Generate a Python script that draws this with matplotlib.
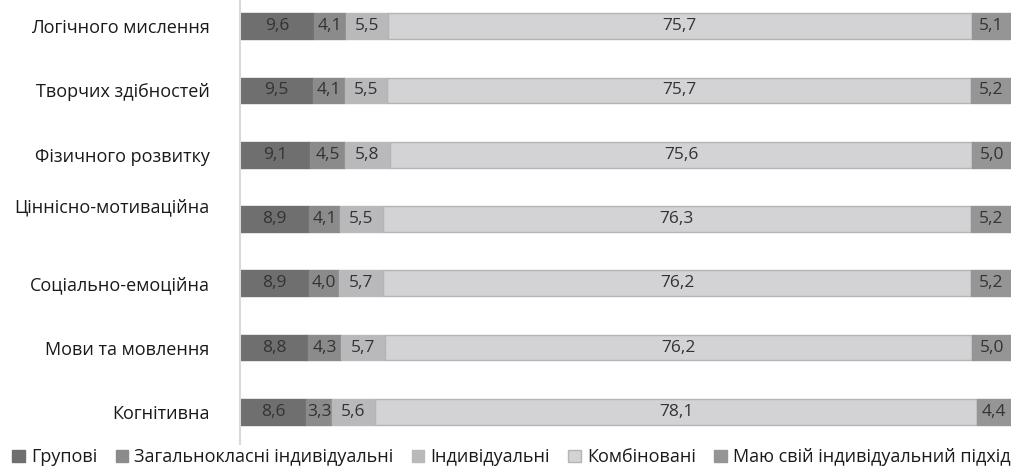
import matplotlib.pyplot as plt
import matplotlib.transforms as mtransforms
import numpy as np

plt.rcParams['font.family'] = ['Open Sans', 'DejaVu Sans']

categories = ['Логічного мислення', 'Творчих здібностей', 'Фізичного розвитку',
              'Ціннісно-мотиваційна', 'Соціально-емоційна', 'Мови та мовлення', 'Когнітивна']
series = ['Групові', 'Загальнокласні індивідуальні', 'Індивідуальні',
          'Комбіновані', 'Маю свій індивідуальний підхід']
grupovi = [9.6, 9.5, 9.1, 8.9, 8.9, 8.8, 8.6]
zagalno = [4.1, 4.1, 4.5, 4.1, 4.0, 4.3, 3.3]
indyvid = [5.5, 5.5, 5.8, 5.5, 5.7, 5.7, 5.6]
kombin = [75.7, 75.7, 75.6, 76.3, 76.2, 76.2, 78.1]
svii = [5.1, 5.2, 5.0, 5.2, 5.2, 5.0, 4.4]

values = [grupovi, zagalno, indyvid, kombin, svii]
colors = ['#6f6f6f', '#8b8b8b', '#b9b9bb', '#d3d3d5', '#959595']
edges = ['#6f6f6f', '#8b8b8b', '#b9b9bb', '#b4b4b6', '#959595']

fig = plt.figure(figsize=(10.23, 4.70), dpi=100)
ax = fig.add_axes([240 / 1023, 26 / 470, 771 / 1023, 450 / 470])

y = np.arange(len(categories))
left = np.zeros(len(categories))
for name, vals, c, ec in zip(series, values, colors, edges):
    vals = np.array(vals)
    bars = ax.barh(y, vals, left=left, height=0.4, color=c, edgecolor=ec,
                   linewidth=1, label=name)
    for b, v in zip(bars, vals):
        ax.text(b.get_x() + b.get_width() / 2, b.get_y() + b.get_height() / 2,
                f'{v:.1f}'.replace('.', ','), ha='center', va='center',
                fontsize=12.5, color='#333333')
    left += vals

ax.set_xlim(0, 100)
ax.set_ylim(len(categories) - 0.5, -0.5)
ax.set_yticks(y)
ax.set_yticklabels(categories, fontsize=13, color='#1a1a1a')
ax.tick_params(axis='y', length=0, pad=22)
ax.set_xticks([])
for s in ['top', 'right', 'bottom']:
    ax.spines[s].set_visible(False)
ax.spines['left'].set_color('#d9d9d9')
ax.spines['left'].set_linewidth(1.5)

# the wrapped label sits a bit higher than its bar
lab = ax.get_yticklabels()[3]
lab.set_transform(lab.get_transform() + mtransforms.ScaledTranslation(0, 14 / 100, fig.dpi_scale_trans))

fig.legend(loc='lower center', bbox_to_anchor=(0.5, -0.015), ncol=5, frameon=False,
           fontsize=13, handlelength=0.7, handleheight=0.7, handletextpad=0.35,
           columnspacing=1.0, labelcolor='#1a1a1a', borderaxespad=0.2)

fig.savefig('out.png', dpi=100)
